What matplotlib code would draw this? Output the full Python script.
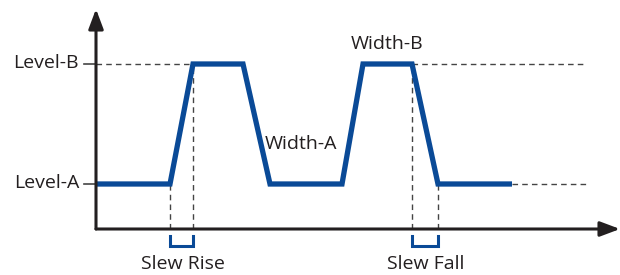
import matplotlib
matplotlib.use("Agg")
import matplotlib.pyplot as plt

# ---- data (arbitrary time units, levels in arbitrary units) ----
t_points = [0, 74, 97, 147, 174, 246, 267, 316, 342, 416]
v_points = [45, 45, 165, 165, 45, 45, 165, 165, 45, 45]
level_A = 45
level_B = 165
level_labels = ["Level-A", "Level-B"]
dash_end = 491
slew_rise = (74, 97)
slew_fall = (316, 342)

W, H = 620, 275
fig = plt.figure(figsize=(W / 100, H / 100), dpi=100)
# axes region: origin at px (96, 229), top at px 10, right at px 620
x0, y0 = 96, 229
ax = fig.add_axes([x0 / W, (H - y0) / H, (W - x0) / W, (y0 - 10) / H])
ax.set_xlim(0, W - x0)
ax.set_ylim(0, y0 - 10)
ax.axis("off")

FONT = "Open Sans"
FS = 14
txtc = "#231f20"
blue = "#0a4a97"
gray = "#444444"

# axes with arrows
ax.annotate("", xy=(0, y0 - 9), xytext=(0, 0),
            arrowprops=dict(arrowstyle="-|>,head_length=1.2,head_width=0.45",
                            color="#231f20", lw=2.2, shrinkA=0, shrinkB=0),
            annotation_clip=False)
ax.annotate("", xy=(W - x0, 0), xytext=(0, 0),
            arrowprops=dict(arrowstyle="-|>,head_length=1.2,head_width=0.45",
                            color="#231f20", lw=2.2, shrinkA=0, shrinkB=0),
            annotation_clip=False)

# dashed reference lines
dkw = dict(color=gray, lw=1.0, ls=(0, (4, 3)))
ax.plot([0, t_points[2]], [level_B, level_B], **dkw)
ax.plot([t_points[7], dash_end], [level_B, level_B], **dkw)
ax.plot([t_points[-1], dash_end], [level_A, level_A], **dkw)
ax.plot([slew_rise[0]] * 2, [0, level_A], **dkw)
ax.plot([slew_rise[1]] * 2, [0, level_B], **dkw)
ax.plot([slew_fall[0]] * 2, [0, level_B], **dkw)
ax.plot([slew_fall[1]] * 2, [0, level_A], **dkw)

# ticks for levels
for lv, lab in zip([level_A, level_B], level_labels):
    ax.plot([-12, 0], [lv, lv], color=gray, lw=1.2, clip_on=False)
    ax.text(-17, lv + 1, lab, ha="right", va="center", fontsize=FS,
            family=FONT, color=txtc)

# waveform
ax.plot(t_points, v_points, color=blue, lw=3.8, solid_joinstyle="miter",
        solid_capstyle="butt", clip_on=False)

# slew brackets
for (a, b), lab in zip([slew_rise, slew_fall], ["Slew Rise", "Slew Fall"]):
    ax.plot([a, a, b, b], [-7, -17, -17, -7], color=blue, lw=2.2,
            solid_joinstyle="miter", clip_on=False)
    ax.text((a + b) / 2 + 1, -35, lab, ha="center", va="center",
            fontsize=FS, family=FONT, color=txtc)

ax.text(205, 85, "Width-A", ha="center", va="center", fontsize=FS,
        family=FONT, color=txtc)
ax.text(291, 185, "Width-B", ha="center", va="center", fontsize=FS,
        family=FONT, color=txtc)

fig.savefig("out.png", dpi=100)
